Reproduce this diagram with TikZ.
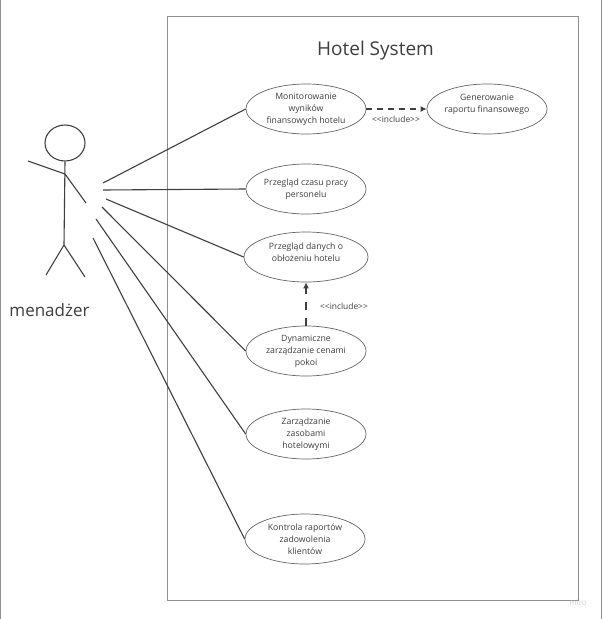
\documentclass[tikz,border=0pt]{standalone}
\usepackage{fontspec}
\setmainfont{Open Sans}
\usetikzlibrary{shapes.geometric,arrows.meta}
\definecolor{ink}{HTML}{3F3F3F}
\definecolor{rim}{HTML}{8E8E8E}
\tikzset{
  usecase/.style={ellipse,draw=ink!80,line width=0.7pt,minimum width=120pt,minimum height=50pt,inner sep=0pt,align=center,font=\fontsize{8.7}{12}\selectfont,text=ink,pad top=12pt,pad bottom=0pt},
  pad top/.style={execute at begin node={\rule{0pt}{#1}}},
  pad bottom/.style={execute at end node={\rule[-#1]{0pt}{#1}}},
  link/.style={draw=ink,line width=1.1pt},
  dep/.style={draw=ink,line width=1.2pt,dash pattern=on 6pt off 5pt,-{Latex[length=6pt,width=6pt]}},
  depthick/.style={dep,line width=1.6pt,dash pattern=on 8pt off 8pt},
  body/.style={draw=ink,line width=1.1pt},
  note/.style={font=\fontsize{8.4}{10}\selectfont,text=ink,inner sep=0pt}
}
\begin{document}
\begin{tikzpicture}[x=1pt,y=-1pt]
\useasboundingbox (0,0) rectangle (602,619);
\fill[white] (0,0) rectangle (602,619);
\draw[rim,line width=0.7pt] (0.4,0)--(0.4,619) (601.6,0)--(601.6,619);
\node[draw=rim,line width=0.8pt,minimum width=411pt,minimum height=584pt,inner sep=0pt] (sys) at (372.5,308) {};
\node[font=\fontsize{19}{22}\selectfont,text=ink,inner sep=0pt] (title) at (375.5,50.5) {Hotel System};
\node[usecase,pad top=17pt] (e1) at (306,109) {Monitorowanie\\wyników\\finansowych hotelu};
\node[usecase,pad bottom=11pt] (e2) at (487,109) {Generowanie\\raportu finansowego};
\node[usecase,pad top=15pt] (e3) at (306,189) {Przegląd czasu pracy\\personelu};
\node[usecase,minimum width=124pt,pad bottom=10pt] (e4) at (306,257) {Przegląd danych o\\obłożeniu hotelu};
\node[usecase,pad top=14pt] (e5) at (306,351) {Dynamiczne\\zarządzanie cenami\\pokoi};
\node[usecase] (e6) at (306,434) {Zarządzanie\\zasobami\\hotelowymi};
\node[usecase] (e7) at (305,539) {Kontrola raportów\\zadowolenia\\klientów};
\node[ellipse,draw=ink,line width=1.1pt,minimum width=40pt,minimum height=36pt,inner sep=0pt] (head) at (65,143) {};
\coordinate (hip) at (64,245);
\coordinate (shoulder) at (65,174);
\coordinate (handl) at (28,161);
\coordinate (handr) at (86,203);
\coordinate (footl) at (46,275);
\coordinate (footr) at (85,277);
\draw[body] (head.south)--(hip) (handl)--(shoulder)--(handr) (footl)--(hip)--(footr);
\node[font=\fontsize{17}{20}\selectfont,text=ink,inner sep=0pt] (actor) at (49.5,310) {menadżer};
\coordinate (a1) at (103,183);
\coordinate (a2) at (103,190);
\coordinate (a3) at (106,199);
\coordinate (a4) at (102,207);
\coordinate (a5) at (96,219);
\coordinate (a6) at (93,238);
\draw[link] (a1)--(e1.west);
\draw[link] (a2)--(e3.west);
\draw[link] (a3)--(e4.west);
\draw[link] (a4)--(e5.west);
\draw[link] (a5)--(e6.west);
\draw[link] (a6)--(e7.west);
\draw[dep] (e1.east)--(e2.west);
\draw[depthick] (e5.north)--(e4.south);
\node[note] (inc1) at (396,119) {<{}<include>{}>};
\node[note] (inc2) at (344,306) {<{}<include>{}>};
\node[font=\fontsize{8}{9}\selectfont,text=black!18,inner sep=0pt] (miro) at (578,603) {miro};
\end{tikzpicture}
\end{document}
